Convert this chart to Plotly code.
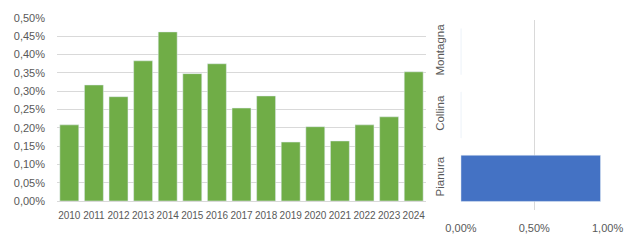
import plotly.graph_objects as go

years = [str(y) for y in range(2010, 2025)]
values = [0.00208, 0.00317, 0.00285, 0.00383, 0.00462, 0.00348, 0.00375, 0.00254,
          0.00287, 0.00161, 0.00203, 0.00164, 0.00208, 0.00230, 0.00353]
zones = ["Pianura", "Collina", "Montagna"]
zone_values = [0.00952, 0.0, 0.0]

TXT = "#595959"
GRID = "#D9D9D9"
FONT = "Liberation Sans"

fig = go.Figure()
fig.add_trace(go.Bar(x=years, y=values, marker_color="#70AD47", width=0.77,
                     xaxis="x", yaxis="y", showlegend=False))
fig.add_trace(go.Bar(x=zone_values, y=zones, orientation="h", marker_color="#4472C4",
                     width=0.73, xaxis="x2", yaxis="y2", showlegend=False))

fig.update_layout(
    width=630, height=240,
    margin=dict(l=0, r=0, t=0, b=0, autoexpand=False),
    paper_bgcolor="white", plot_bgcolor="white",
    separators=",.",
    font=dict(family=FONT, size=11, color=TXT),
    xaxis=dict(domain=[57/630, 426/630], type="category", showgrid=False,
               showline=True, linecolor=GRID, ticks="", anchor="y",
               tickangle=0, automargin=False, ticklabelstandoff=5,
               tickfont=dict(size=10, color=TXT)),
    yaxis=dict(domain=[39/240, 222/240], range=[0, 0.005], dtick=0.0005,
               tickformat=".2%", showgrid=True, gridcolor=GRID, zeroline=False,
               showline=False, ticks="", anchor="x", ticklabelstandoff=11,
               automargin=False, tickfont=dict(size=11, color=TXT)),
    xaxis2=dict(domain=[460.5/630, 608/630], range=[-0.00003, 0.01003], dtick=0.005,
                tickformat=".2%", showgrid=True, gridcolor=GRID, zeroline=False,
                showline=False, ticks="", anchor="y2", ticklabelstandoff=10,
                automargin=False, tickfont=dict(size=11, color=TXT)),
    yaxis2=dict(domain=[30/240, 220/240], type="category",
                categoryorder="array", categoryarray=zones,
                showgrid=False, showline=False, ticks="", anchor="x2",
                tickangle=-90, ticklabelstandoff=13, automargin=False,
                tickfont=dict(size=11.5, color=TXT)),
)

fig.write_html("out.html")
